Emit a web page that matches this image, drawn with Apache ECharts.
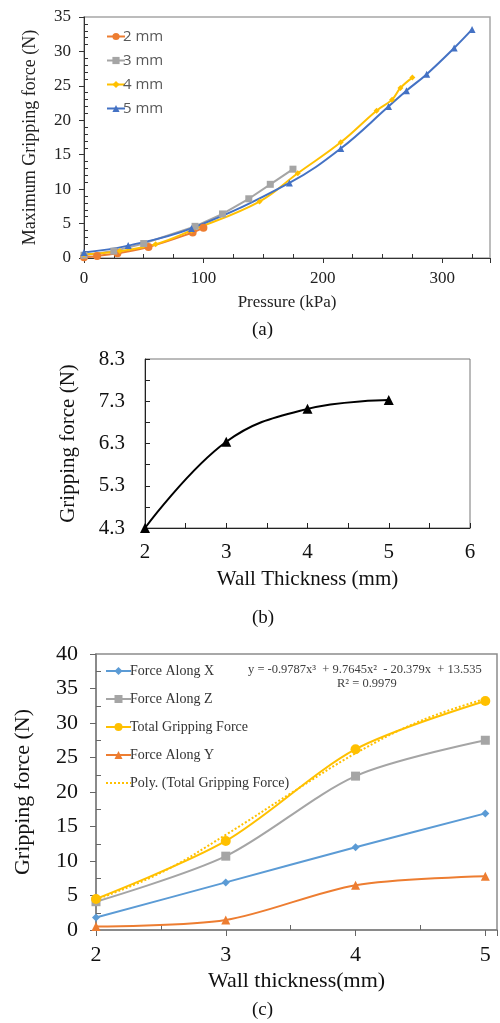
<!DOCTYPE html>
<html>
<head>
<meta charset="utf-8">
<script src="https://cdn.jsdelivr.net/npm/echarts@6/dist/echarts.min.js"></script>
<style>
  html, body { margin: 0; padding: 0; background: #fff; }
  #chart { width: 500px; height: 1023px; }
</style>
</head>
<body>
<div id="chart"></div>
<script>
// (a) max gripping force vs pressure
const pressure2 = [0, 11, 28, 54, 91, 100];
const force2 = [0.1, 0.3, 0.7, 1.6, 3.7, 4.4];
const pressure3 = [0, 25, 50, 93, 116, 138, 156, 175];
const force3 = [0.4, 1.0, 2.1, 4.6, 6.4, 8.6, 10.7, 12.9];
const pressure4 = [0, 30, 60, 90, 147, 179, 215, 245, 258, 265, 275];
const force4 = [0.5, 1.0, 2.0, 4.0, 8.2, 12.3, 16.8, 21.4, 23.0, 24.7, 26.2];
const pressure5 = [0, 37, 90, 172, 215, 255, 270, 287, 310, 325];
const force5 = [0.8, 1.8, 4.3, 10.9, 15.9, 22.0, 24.3, 26.7, 30.5, 33.2];

// (b) gripping force vs wall thickness
const thicknessB = [2, 3, 4, 5];
const forceB = [4.3, 6.34, 7.12, 7.33];

// (c) force components vs wall thickness
const thicknessC = [2, 3, 4, 5];
const alongX = [1.8, 6.9, 12.0, 16.9];
const alongZ = [4.1, 10.7, 22.3, 27.5];
const totalForce = [4.5, 12.9, 26.2, 33.2];
const alongY = [0.5, 1.45, 6.5, 7.8];
const polyX = [2, 2.5, 3, 3.5, 4, 4.5, 5];
const polyY = [4.4, 8.3, 13.8, 19.8, 25.6, 30.3, 33.5];

const serif = '"Liberation Serif", "Times New Roman", serif';
const sans = '"Open Sans", "Liberation Sans", sans-serif';

const pairs = (xs, ys) => xs.map((x, i) => [x, ys[i]]);
const hidden = { color: 'rgba(0,0,0,0)', borderColor: 'rgba(0,0,0,0)', borderWidth: 0 };

let chart = echarts.init(document.getElementById('chart'));

const getOption = () => {
  return {
    animation: false,
    backgroundColor: '#fff',
    grid: [
      { left: 84, top: 17, width: 406, height: 241, show: true, borderColor: '#a6a6a6', borderWidth: 1.5 },
      { left: 145, top: 359, width: 325, height: 169, show: true, borderColor: '#777', borderWidth: 1 },
      { left: 96, top: 654, width: 402, height: 276, show: true, borderColor: '#8c8c8c', borderWidth: 1.5 }
    ],
    xAxis: [
      {
        gridIndex: 0, type: 'value', min: 0, max: 340, interval: 100,
        name: 'Pressure (kPa)', nameLocation: 'middle', nameGap: 36,
        nameTextStyle: { fontFamily: serif, fontSize: 17, color: '#222' },
        axisLine: { lineStyle: { color: '#333', width: 1 } },
        axisTick: { show: true, length: 5, lineStyle: { color: '#333' } },
        minorTick: { show: true, splitNumber: 4, length: -4, lineStyle: { color: '#333' } },
        splitLine: { show: false },
        axisLabel: {
          fontFamily: serif, fontSize: 17, color: '#222', margin: 12,
          formatter: v => (v % 100 === 0 ? String(v) : '')
        }
      },
      {
        gridIndex: 1, type: 'value', min: 2, max: 6, interval: 0.5,
        name: 'Wall Thickness (mm)', nameLocation: 'middle', nameGap: 41,
        nameTextStyle: { fontFamily: serif, fontSize: 21, color: '#111' },
        axisLine: { lineStyle: { color: '#222', width: 1 } },
        axisTick: { show: true, inside: true, length: 5, lineStyle: { color: '#222' } },
        splitLine: { show: false },
        axisLabel: {
          fontFamily: serif, fontSize: 21, color: '#111', margin: 14,
          formatter: v => (Math.abs(v - Math.round(v)) < 1e-6 ? String(Math.round(v)) : '')
        }
      },
      {
        gridIndex: 2, type: 'value', min: 2, max: 5.09, interval: 1,
        name: 'Wall thickness(mm)', nameLocation: 'middle', nameGap: 40,
        nameTextStyle: { fontFamily: serif, fontSize: 22, color: '#111' },
        axisLine: { lineStyle: { color: '#808080', width: 1.5 } },
        axisTick: { show: true, length: 6, lineStyle: { color: '#666' } },
        minorTick: { show: true, splitNumber: 2, length: -5, lineStyle: { color: '#666' } },
        splitLine: { show: false },
        axisLabel: {
          fontFamily: serif, fontSize: 22, color: '#111', margin: 14,
          formatter: v => (Math.abs(v - Math.round(v)) < 1e-6 ? String(Math.round(v)) : '')
        }
      }
    ],
    yAxis: [
      {
        gridIndex: 0, type: 'value', min: 0, max: 35, interval: 5,
        name: 'Maximum Gripping force (N)', nameLocation: 'middle', nameGap: 45,
        nameTextStyle: { fontFamily: serif, fontSize: 18, color: '#222' },
        axisLine: { show: true, lineStyle: { color: '#333', width: 1 } },
        axisTick: { show: true, length: 5, lineStyle: { color: '#333' } },
        minorTick: { show: true, splitNumber: 5, length: -4, lineStyle: { color: '#333' } },
        splitLine: { show: false },
        axisLabel: { fontFamily: serif, fontSize: 17, color: '#222', margin: 13 }
      },
      {
        gridIndex: 1, type: 'value', min: 4.3, max: 8.3, interval: 0.5,
        name: 'Gripping force (N)', nameLocation: 'middle', nameGap: 66,
        nameTextStyle: { fontFamily: serif, fontSize: 21, color: '#111' },
        axisLine: { show: true, lineStyle: { color: '#222', width: 1 } },
        axisTick: { show: true, inside: true, length: 5, lineStyle: { color: '#222' } },
        splitLine: { show: false },
        axisLabel: {
          fontFamily: serif, fontSize: 21, color: '#111', margin: 20,
          formatter: v => (Math.round((v - 4.3) * 10) % 10 === 0 ? v.toFixed(1) : '')
        }
      },
      {
        gridIndex: 2, type: 'value', min: 0, max: 40, interval: 5,
        name: 'Gripping force (N)', nameLocation: 'middle', nameGap: 62,
        nameTextStyle: { fontFamily: serif, fontSize: 22, color: '#111' },
        axisLine: { show: true, lineStyle: { color: '#808080', width: 1.5 } },
        axisTick: { show: true, length: 6, lineStyle: { color: '#666' } },
        minorTick: { show: true, splitNumber: 2, length: -5, lineStyle: { color: '#666' } },
        splitLine: { show: false },
        axisLabel: { fontFamily: serif, fontSize: 22, color: '#111', margin: 18 }
      }
    ],
    legend: [
      {
        left: 101, top: 24, orient: 'vertical', itemGap: 9, itemWidth: 18, itemHeight: 9,
        textStyle: { fontFamily: sans, fontSize: 15, color: '#595959', padding: [0, 0, 0, -7] },
        data: ['2 mm', '3 mm', '4 mm', '5 mm']
      },
      {
        left: 100, top: 659, orient: 'vertical', itemGap: 14, itemWidth: 25, itemHeight: 10,
        textStyle: { fontFamily: serif, fontSize: 14, color: '#333', padding: [0, 0, 0, -6] },
        data: ['Force Along X', 'Force Along Z', 'Total Gripping Force', 'Force Along Y',
          { name: 'Poly. (Total Gripping Force)', itemStyle: hidden }]
      }
    ],
    graphic: [
      { type: 'text', left: 252, top: 321, style: { text: '(a)', font: '19px ' + serif, fill: '#111' } },
      { type: 'text', left: 252, top: 609, style: { text: '(b)', font: '19px ' + serif, fill: '#111' } },
      { type: 'text', left: 252, top: 1001, style: { text: '(c)', font: '19px ' + serif, fill: '#111' } },
      {
        type: 'text', left: 248, top: 663,
        style: { text: 'y = -0.9787x\u00b3  + 9.7645x\u00b2  - 20.379x  + 13.535', font: '12.5px ' + serif, fill: '#404040' }
      },
      {
        type: 'text', left: 337, top: 677,
        style: { text: 'R\u00b2 = 0.9979', font: '12.5px ' + serif, fill: '#404040' }
      }
    ],
    series: [
      {
        name: '2 mm', type: 'line', xAxisIndex: 0, yAxisIndex: 0, smooth: 0.4,
        data: pairs(pressure2, force2), symbol: 'circle', symbolSize: 8,
        itemStyle: { color: '#ED7D31' }, lineStyle: { color: '#ED7D31', width: 2 }
      },
      {
        name: '3 mm', type: 'line', xAxisIndex: 0, yAxisIndex: 0, smooth: false,
        data: pairs(pressure3, force3), symbol: 'rect', symbolSize: 7,
        itemStyle: { color: '#A5A5A5' }, lineStyle: { color: '#A5A5A5', width: 2 }
      },
      {
        name: '4 mm', type: 'line', xAxisIndex: 0, yAxisIndex: 0, smooth: 0.4,
        data: pairs(pressure4, force4), symbol: 'diamond', symbolSize: 6,
        itemStyle: { color: '#FFC000' }, lineStyle: { color: '#FFC000', width: 2 }
      },
      {
        name: '5 mm', type: 'line', xAxisIndex: 0, yAxisIndex: 0, smooth: 0.4,
        data: pairs(pressure5, force5), symbol: 'triangle', symbolSize: 7,
        itemStyle: { color: '#4472C4' }, lineStyle: { color: '#4472C4', width: 2 }
      },
      {
        name: 'Wall', type: 'line', xAxisIndex: 1, yAxisIndex: 1, smooth: 0.4,
        data: pairs(thicknessB, forceB), symbol: 'triangle', symbolSize: 10,
        itemStyle: { color: '#000' }, lineStyle: { color: '#000', width: 2 }
      },
      {
        name: 'Force Along X', type: 'line', xAxisIndex: 2, yAxisIndex: 2, smooth: 0.3,
        data: pairs(thicknessC, alongX), symbol: 'diamond', symbolSize: 8,
        itemStyle: { color: '#5B9BD5' }, lineStyle: { color: '#5B9BD5', width: 2 }
      },
      {
        name: 'Force Along Z', type: 'line', xAxisIndex: 2, yAxisIndex: 2, smooth: 0.3,
        data: pairs(thicknessC, alongZ), symbol: 'rect', symbolSize: 9,
        itemStyle: { color: '#A5A5A5' }, lineStyle: { color: '#A5A5A5', width: 2 }
      },
      {
        name: 'Total Gripping Force', type: 'line', xAxisIndex: 2, yAxisIndex: 2, smooth: 0.3,
        data: pairs(thicknessC, totalForce), symbol: 'circle', symbolSize: 10,
        itemStyle: { color: '#FFC000' }, lineStyle: { color: '#FFC000', width: 2 }
      },
      {
        name: 'Force Along Y', type: 'line', xAxisIndex: 2, yAxisIndex: 2, smooth: 0.3,
        data: pairs(thicknessC, alongY), symbol: 'triangle', symbolSize: 9,
        itemStyle: { color: '#ED7D31' }, lineStyle: { color: '#ED7D31', width: 2 }
      },
      {
        name: 'Poly. (Total Gripping Force)', type: 'line', xAxisIndex: 2, yAxisIndex: 2, smooth: 0.4,
        data: pairs(polyX, polyY), symbol: 'none', showSymbol: false,
        itemStyle: { color: '#FFC000' }, lineStyle: { color: '#FFC000', width: 2, type: 'dotted' }
      }
    ]
  };
};

chart.setOption(getOption());
window.addEventListener('resize', function () {
  chart && chart.resize();
});
</script>
</body>
</html>
